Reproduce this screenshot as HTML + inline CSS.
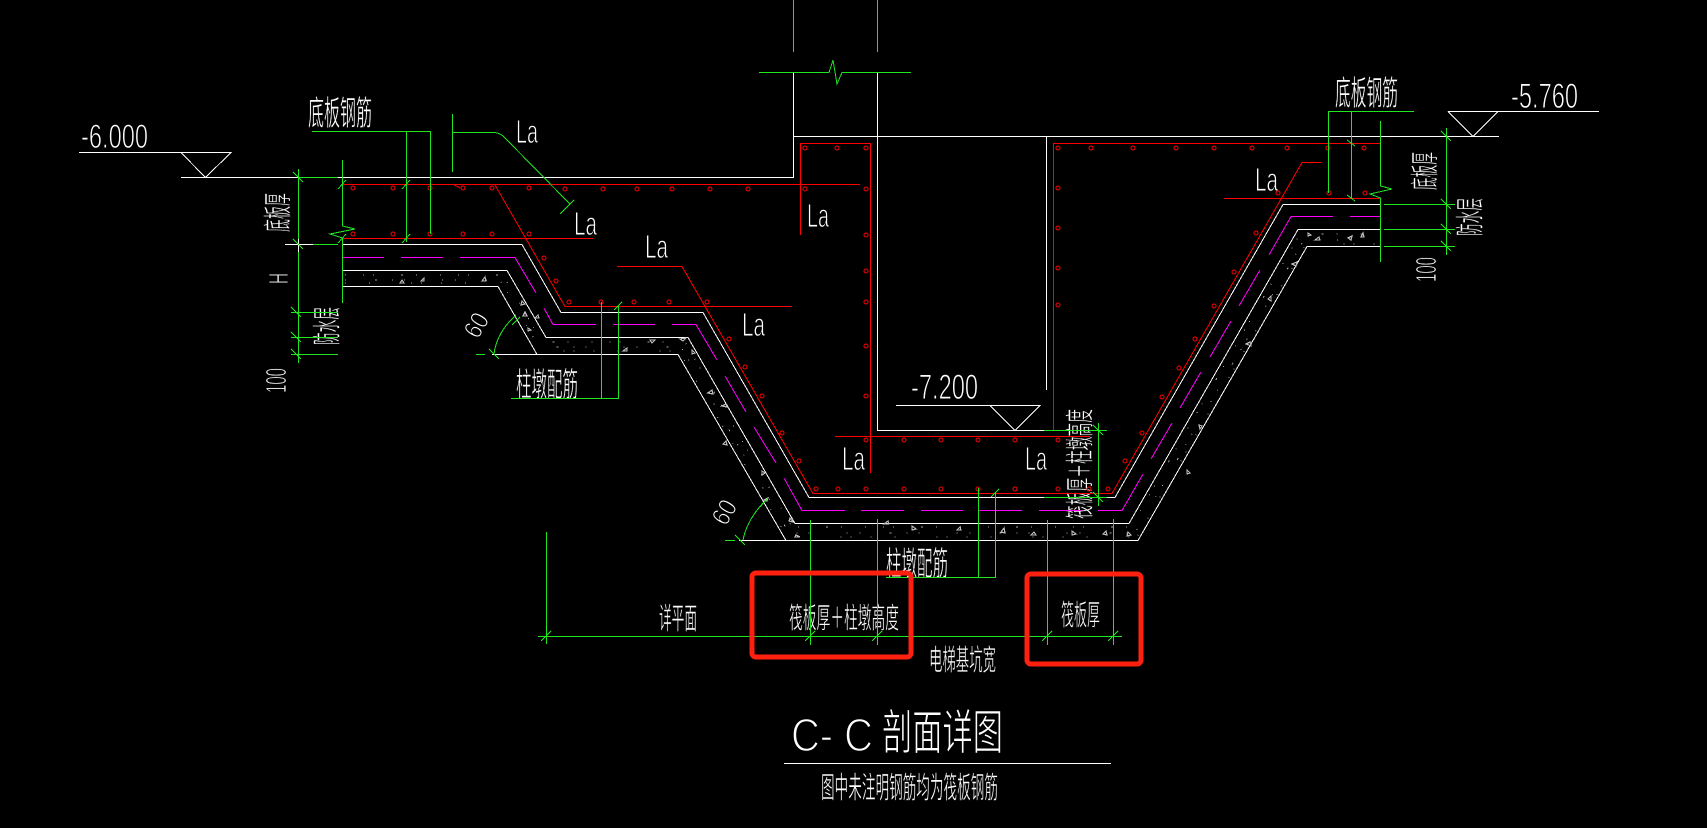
<!DOCTYPE html>
<html lang="zh"><head><meta charset="utf-8"><title>C-C剖面详图</title>
<style>
html,body{margin:0;padding:0;background:#000;width:1707px;height:828px;overflow:hidden}
svg{display:block}
path,line,rect.k{shape-rendering:crispEdges}
text{fill:#fff;font-family:"Liberation Sans","Noto Sans CJK SC",sans-serif;stroke:#000;stroke-width:.9}
.c{font-family:"Liberation Sans","Noto Sans CJK SC","WenQuanYi Zen Hei",sans-serif;stroke-width:.55}
.w{fill:none;stroke:#fff;stroke-width:1}
.g{fill:none;stroke:#1fe61f;stroke-width:1}
.r{fill:none;stroke:#f00;stroke-width:1}
.m{fill:none;stroke:#f0f;stroke-width:1}
</style></head><body>
<svg width="1707" height="828" viewBox="0 0 1707 828" xmlns="http://www.w3.org/2000/svg">
<rect width="1707" height="828" fill="#000"/>

<!-- Latin text -->
<g font-size="33">
<text x="81" y="148" font-size="34" textLength="67" lengthAdjust="spacingAndGlyphs">-6.000</text>
<text x="1511" y="108" font-size="35" textLength="67" lengthAdjust="spacingAndGlyphs">-5.760</text>
<text x="911" y="399" font-size="35" textLength="67" lengthAdjust="spacingAndGlyphs">-7.200</text>
<text x="516" y="143" textLength="22" lengthAdjust="spacingAndGlyphs">La</text>
<text x="574" y="235" textLength="23" lengthAdjust="spacingAndGlyphs">La</text>
<text x="645" y="258" textLength="23" lengthAdjust="spacingAndGlyphs">La</text>
<text x="742" y="336" textLength="23" lengthAdjust="spacingAndGlyphs">La</text>
<text x="807" y="227" textLength="22" lengthAdjust="spacingAndGlyphs">La</text>
<text x="842" y="470" textLength="23" lengthAdjust="spacingAndGlyphs">La</text>
<text x="1025" y="470" textLength="22" lengthAdjust="spacingAndGlyphs">La</text>
<text x="1255" y="191" textLength="23" lengthAdjust="spacingAndGlyphs">La</text>
</g>
<text x="791" y="751" font-size="46" textLength="82" lengthAdjust="spacingAndGlyphs" style="stroke-width:1.5">C- C</text>
<text transform="translate(288 284) rotate(-90)" font-size="28" textLength="11" lengthAdjust="spacingAndGlyphs">H</text>
<text transform="translate(286 393) rotate(-90)" font-size="29" textLength="25" lengthAdjust="spacingAndGlyphs">100</text>
<text transform="translate(1436 282) rotate(-90)" font-size="29" textLength="25" lengthAdjust="spacingAndGlyphs">100</text>
<text transform="translate(478 340) rotate(-60)" font-size="26" textLength="24" lengthAdjust="spacingAndGlyphs">60</text>
<text transform="translate(726 527) rotate(-60)" font-size="26" textLength="24" lengthAdjust="spacingAndGlyphs">60</text>

<!-- CJK text -->
<text class="c" x="308" y="125" font-size="34" textLength="64" lengthAdjust="spacingAndGlyphs">底板钢筋</text>
<text class="c" x="1335" y="105" font-size="34" textLength="63" lengthAdjust="spacingAndGlyphs">底板钢筋</text>
<text class="c" x="516" y="396" font-size="33" textLength="62" lengthAdjust="spacingAndGlyphs">柱墩配筋</text>
<text class="c" x="886" y="575" font-size="33" textLength="62" lengthAdjust="spacingAndGlyphs">柱墩配筋</text>
<text class="c" x="659" y="629" font-size="30" textLength="38" lengthAdjust="spacingAndGlyphs">详平面</text>
<text class="c" x="789" y="628" font-size="29" textLength="110" lengthAdjust="spacingAndGlyphs">筏板厚＋柱墩高度</text>
<text class="c" x="1061" y="625" font-size="29" textLength="39" lengthAdjust="spacingAndGlyphs">筏板厚</text>
<text class="c" x="929" y="670" font-size="29" textLength="67" lengthAdjust="spacingAndGlyphs">电梯基坑宽</text>
<text class="c" x="882" y="749" font-size="48" textLength="121" lengthAdjust="spacingAndGlyphs" style="stroke-width:1">剖面详图</text>
<text class="c" x="821" y="798" font-size="30" textLength="177" lengthAdjust="spacingAndGlyphs">图中未注明钢筋均为筏板钢筋</text>
<text class="c" transform="translate(288 232) rotate(-90)" font-size="29" textLength="39" lengthAdjust="spacingAndGlyphs">底板厚</text>
<text class="c" transform="translate(337 345) rotate(-90)" font-size="29" textLength="38" lengthAdjust="spacingAndGlyphs">防水层</text>
<text class="c" transform="translate(1435 190) rotate(-90)" font-size="29" textLength="38" lengthAdjust="spacingAndGlyphs">底板厚</text>
<text class="c" transform="translate(1480 236) rotate(-90)" font-size="29" textLength="38" lengthAdjust="spacingAndGlyphs">防水层</text>
<text class="c" transform="translate(1090 519) rotate(-90)" font-size="29" textLength="110" lengthAdjust="spacingAndGlyphs">筏板厚＋柱墩高度</text>

<!-- white structure -->
<path class="w" d="M79 152.500H231L205.500 177.500L181 152.500M181 177.500H793.500V72.500M793.500 136.500H1499M877.500 72.500V430.500H1047M1046.500 136.500V390M1448 111.500H1599M1448 111.500L1473 136.500L1498 111.500M896 405.500H1040L1015 430.500L990 405.500M784 763.500H1111"/>
<path class="w" d="M343 244.500H522L561 312.500H703L809 497.500H1115L1283 204.500H1380"/>
<path class="w" d="M343 270.500H507L546 337.500H688L795 523.500H1129L1298 229.500H1380"/>
<path class="w" d="M343 286.500H498L537 354.500H492M537 354.500H678L786 540.500H739M786 540.500H1138L1307 246.500H1380"/>

<!-- concrete speckle -->
<g fill="none" stroke="#aaa" stroke-width="1">
<path stroke-dasharray="1 17 1 9 1 27 2 13 1 23" d="M345 275H503L542 342H685L792 527H1131L1300 234H1378"/>
<path stroke-dasharray="1 29 2 15 1 11 1 37 1 12" d="M345 280H500L539 347H681L789 533H1135L1304 240H1378"/>
<path stroke-dasharray="1 23 1 41 1 9 1 19" d="M345 283H496L535 351H679L787 537H1137L1306 244H1378"/>
</g>
<g fill="none" stroke="#bbb" stroke-width="1.2">
<path d="M400 283l4 0-2-3zM421 281l3-3v3zM482 281l3-4 1 4zM522 301l3 3-4 1zM523 316l4 0-2-4zM535 318l3-3 1 3zM528 328l3 2-3 1zM650 340l5 0-3 3zM680 339l6-1-3 3zM623 351l4-3v3zM692 350l3 3-3 1zM708 393l4-3 1 4zM722 406l4-2 1 3zM726 441l-3 3 4 1zM762 471l3 2-3 2zM764 500l4-2-1 3zM790 518l3 4-4-1zM796 535l4 2-5 0zM884 524l4-3 1 3zM912 526l4 3-4 1zM957 530l3-3 1 3zM1004 528l-3 4 4 1zM1034 532l-3 3 5 0zM1072 531l4 3-4 1zM1103 534l3-3 1 4zM1128 532l3 3-4 1zM1187 470l3 3-3 1zM1199 425l3 1-2 3zM1246 344l4-2 1 4zM1271 296l-3 3 3 2zM1292 264l5-2-1 4zM1315 240l4-3 1 3zM1361 237l2-4 1 4zM1348 238l4-2-1 4zM1308 233l3 2-3 1z"/>
</g>

<!-- magenta dashes -->
<path class="m" d="M343 257.500H384M401 257.500H443M460 257.500H515L536 293M544 308L553 324.500H596M613 324.500H655M672 324.500H696L717 360M725 376L746 412M754 427L776 463M784 478L802 510.500H845M861 510.500H904M921 510.500H963M979 510.500H1022M1039 510.500H1082M1098 510.500H1122L1143 474M1151 459L1172 423M1180 408L1201 372M1210 357L1231 321M1239 306L1260 270M1269 255L1291 216.500H1333M1350 216.500H1380"/>

<!-- red rebar -->
<path class="r" d="M343 184.500H860M343 238.500H593M495 185L565 306.500H792M617 266.500H682L813 493.500H1112L1302 162.500H1322M800.500 235V143.500H870.500V473M1053.500 430V143.500H1380M835 436.500H1090M1224 198.500H1380M453 184L460 188"/>
<g fill="none" stroke="#f00" stroke-width="1">
<circle cx="353" cy="188" r="2"/><circle cx="393" cy="188" r="2"/><circle cx="430" cy="188" r="2"/><circle cx="463" cy="188" r="2"/><circle cx="492" cy="188" r="2"/><circle cx="529" cy="188" r="2"/><circle cx="565" cy="189" r="2"/><circle cx="603" cy="189" r="2"/><circle cx="637" cy="189" r="2"/><circle cx="672" cy="189" r="2"/><circle cx="710" cy="189" r="2"/><circle cx="748" cy="189" r="2"/><circle cx="805" cy="189" r="2"/><circle cx="866" cy="189" r="2"/>
<circle cx="353" cy="234" r="2"/><circle cx="393" cy="234" r="2"/><circle cx="430" cy="234" r="2"/><circle cx="463" cy="234" r="2"/><circle cx="492" cy="234" r="2"/><circle cx="529" cy="234" r="2"/>
<circle cx="544" cy="258" r="2"/><circle cx="556" cy="281" r="2"/>
<circle cx="569" cy="302" r="2"/><circle cx="601" cy="302" r="2"/><circle cx="634" cy="302" r="2"/><circle cx="669" cy="302" r="2"/><circle cx="707" cy="302" r="2"/>
<circle cx="729" cy="339" r="2"/><circle cx="745" cy="367" r="2"/><circle cx="762" cy="396" r="2"/><circle cx="782" cy="433" r="2"/><circle cx="799" cy="461" r="2"/>
<circle cx="816" cy="489" r="2"/><circle cx="838" cy="489" r="2"/><circle cx="866" cy="489" r="2"/><circle cx="904" cy="489" r="2"/><circle cx="941" cy="489" r="2"/><circle cx="978" cy="489" r="2"/><circle cx="1015" cy="489" r="2"/><circle cx="1058" cy="489" r="2"/><circle cx="1089" cy="489" r="2"/><circle cx="1108" cy="489" r="2"/>
<circle cx="866" cy="440" r="2"/><circle cx="904" cy="440" r="2"/><circle cx="941" cy="440" r="2"/><circle cx="978" cy="440" r="2"/><circle cx="1015" cy="440" r="2"/><circle cx="1058" cy="440" r="2"/>
<circle cx="805" cy="148" r="2"/><circle cx="837" cy="148" r="2"/><circle cx="866" cy="148" r="2"/>
<circle cx="866" cy="235" r="2"/><circle cx="866" cy="271" r="2"/><circle cx="866" cy="302" r="2"/><circle cx="866" cy="346" r="2"/><circle cx="866" cy="396" r="2"/>
<circle cx="1058" cy="148" r="2"/><circle cx="1091" cy="148" r="2"/><circle cx="1133" cy="148" r="2"/><circle cx="1176" cy="148" r="2"/><circle cx="1214" cy="148" r="2"/><circle cx="1252" cy="148" r="2"/><circle cx="1287" cy="148" r="2"/><circle cx="1328" cy="148" r="2"/><circle cx="1364" cy="148" r="2"/>
<circle cx="1058" cy="188" r="2"/><circle cx="1058" cy="228" r="2"/><circle cx="1058" cy="268" r="2"/><circle cx="1058" cy="305" r="2"/>
<circle cx="1278" cy="193" r="2"/><circle cx="1329" cy="193" r="2"/><circle cx="1365" cy="193" r="2"/>
<circle cx="1125" cy="461" r="2"/><circle cx="1142" cy="433" r="2"/><circle cx="1162" cy="397" r="2"/><circle cx="1179" cy="368" r="2"/><circle cx="1195" cy="339" r="2"/><circle cx="1214" cy="306" r="2"/><circle cx="1234" cy="272" r="2"/><circle cx="1256" cy="233" r="2"/>
</g>

<!-- green dims -->
<path class="g" d="M793.500 0V52M877.500 0V52M759 72.500H829L833 60L837 84L842 72.500H911"/>
<path class="g" d="M342.500 160V226L355 229L330 234L342.500 238V303"/>
<path class="g" d="M298.500 169V239M298.500 252V363M298 177.500H338M313 244.500H338M291 312.500H338M291 337.500H338M291 354.500H338"/>
<path class="w" d="M285 244.500H313M298.500 239V252"/>
<path class="g" d="M312 131.500H430.500V234M406.500 131.500V242"/>
<path class="g" d="M452.500 114V172M452.500 132.500H493Q499 132.500 503 136L570 204"/>
<path class="g" d="M511 398.500H618.500V305M601.500 302V398.500"/>
<path class="g" d="M886 577.500H995.500V493M978.500 488V577.500"/>
<path class="g" d="M1380.500 121V186L1392 189L1370 194L1380.500 198V262"/>
<path class="g" d="M1328 111.500H1414M1328.500 111.500V193M1351.500 111.500V198M1446.500 128V255M1384 204.500H1455M1384 229.500H1455M1384 246.500H1455"/>
<path class="g" d="M1044 430.500H1107M1044 497.500H1107M1098.500 423V506"/>
<path class="g" d="M810.500 520V645M877.500 519V645M1047.500 520V645M1113.500 519V645M546.500 532V644M538 636.500H1122"/>
<path class="g" d="M476 354.500H485M494 354Q497 332 516 315M725 540.500H735M743 540Q747 520 764 502"/>
<!-- ticks -->
<path class="g" d="M293 172l10 10M293 239l10 10M291 307l10 10M291 332l10 10M291 349l10 10M1441 131l10 10M1441 199l10 10M1441 224l10 10M1441 241l10 10M1093 425l10 10M1093 492l10 10M338 189l8-9M338 243l8-9M402 189l8-9M402 243l8-9M1347 140l8 6M1347 195l8 6M560 214l14-14M489 349l10 10M735 535l10 10M512 325l8-8M760 507l8-9M614 310l8-8M991 497l8-8M541 641l10-10M805 641l10-10M872 641l10-10M1042 641l10-10M1108 641l10-10"/>

<!-- red highlight boxes -->
<rect x="752" y="573" width="159" height="84" rx="4" fill="none" stroke="#ff2010" stroke-width="5"/>
<rect x="1027" y="574" width="114" height="90" rx="4" fill="none" stroke="#ff2010" stroke-width="5"/>
</svg>
</body></html>
